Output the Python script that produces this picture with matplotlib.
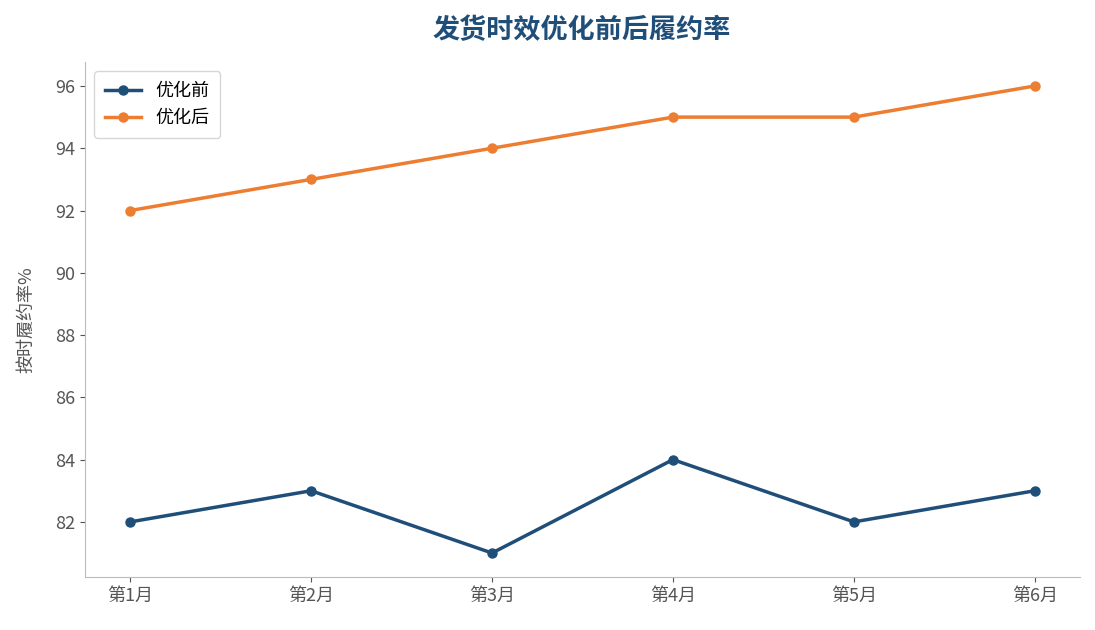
import matplotlib
matplotlib.use('Agg')
import matplotlib.pyplot as plt

plt.rcParams['font.family'] = ['Noto Sans CJK SC', 'DejaVu Sans']

months = ['第1月', '第2月', '第3月', '第4月', '第5月', '第6月']
before = [82, 83, 81, 84, 82, 83]
after = [92, 93, 94, 95, 95, 96]

fig = plt.figure(figsize=(10.95, 6.3), dpi=100)
ax = fig.add_axes([85 / 1095, 1 - 577 / 630, 995 / 1095, 515 / 630])

x = range(len(months))
ax.plot(x, before, color='#1f4e79', marker='o', ms=6.5, lw=2.5, label='优化前')
ax.plot(x, after, color='#ed7d31', marker='o', ms=6.5, lw=2.5, label='优化后')

ax.set_xticks(list(x))
ax.set_xticklabels(months)
ax.set_xlim(-0.25, 5.25)
ax.set_ylim(80.23, 96.77)
ax.set_yticks(range(82, 97, 2))
ax.set_ylabel('按时履约率%', color='#555555', fontsize=13, labelpad=14)
ax.tick_params(colors='#555555', labelsize=13)
for s in ['top', 'right']:
    ax.spines[s].set_visible(False)
for s in ['left', 'bottom']:
    ax.spines[s].set_color('#bbbbbb')

ax.legend(loc='upper left', fontsize=13, borderpad=0.6)
fig.text(582 / 1095, 1 - 30 / 630, '发货时效优化前后履约率', ha='center', va='center',
         fontsize=19.5, fontweight='bold', color='#1f4e79')

fig.savefig('out.png', dpi=100)
